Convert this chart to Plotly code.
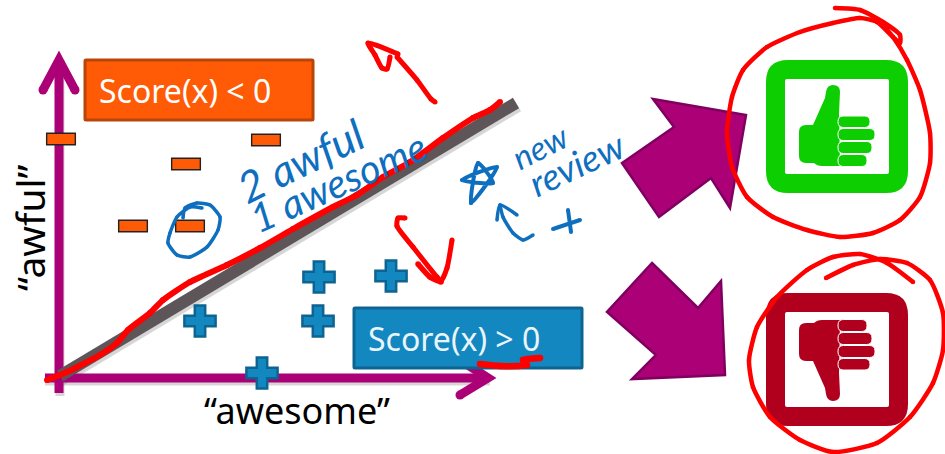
import plotly.graph_objects as go

# everything in pixels
minus_x = [61, 266, 186, 133, 190]
minus_y = [139, 140, 164, 226, 226]
plus_x = [200, 262, 319, 318, 391]
plus_y = [321, 373, 277, 321, 276]

arrow_up = [(653, 99), (746, 115), (730, 208), (711, 178), (659, 217), (622, 163), (674, 127)]
arrow_down = [(652, 263), (698, 308), (721, 281), (725, 375), (632, 379), (656, 355), (607, 312)]

fingers = [(838, 870, 116, 127.5), (838, 875, 128.5, 140.5), (838, 872, 141.5, 153.5), (838, 867, 154.5, 166.5)]

boundary_x = [60, 516]
boundary_y = [376, 103]

red_line_x = [47, 67, 100, 117, 128, 150, 163, 190, 227, 260, 293, 333, 357, 383, 410, 443, 473, 490, 500]
red_line_y = [380, 372, 355, 343, 330, 313, 300, 282, 265, 248, 229, 207, 195, 177, 162, 138, 118, 110, 102]
red_up_x = [435, 431, 417, 397]
red_up_y = [102, 99, 80, 57]
red_up_head_x = [398, 368, 375, 382, 387, 390]
red_up_head_y = [54, 43, 55, 68, 69, 57]
red_down_x = [405, 398, 397, 413, 437, 441, 447, 452]
red_down_y = [218, 218, 226, 247, 277, 281, 268, 240]
red_down_head_x = [418, 430, 441]
red_down_head_y = [264, 277, 282]
red_under_x = [480, 500, 527, 523, 540]
red_under_y = [364, 366, 365, 360, 358]
red_top_x = [835, 860, 883, 900, 900, 893, 877, 860, 833, 800, 767, 743, 732, 727, 732, 747, 773, 807, 840, 873, 900,
             920, 930, 930, 920, 907, 893, 880]
red_top_y = [8, 10, 22, 35, 43, 37, 22, 18, 23, 32, 47, 70, 97, 133, 167, 197, 217, 230, 237, 233, 220,
             197, 163, 133, 90, 60, 37, 22]
red_bot_x = [826, 853, 880, 907, 930, 943, 943, 933, 910, 877, 833, 800, 770, 753, 749, 757, 777, 807, 833, 860, 887, 913]
red_bot_y = [278, 265, 259, 263, 280, 313, 350, 383, 417, 443, 452, 440, 417, 387, 360, 327, 297, 270, 257, 254, 263, 282]

blue_ring_x = [202, 190, 177, 170, 168, 177, 190, 207, 218, 220, 210, 197, 185, 183]
blue_ring_y = [208, 207, 217, 233, 243, 255, 257, 247, 230, 217, 205, 203, 208, 218]
blue_star_x = [471, 478, 493, 462, 497, 471]
blue_star_y = [203, 163, 183, 180, 167, 203]
blue_arrow_x = [533, 523, 513, 503, 500]
blue_arrow_y = [235, 240, 233, 217, 205]
blue_head_x = [497, 500, 517]
blue_head_y = [220, 205, 215]
blue_plus_a_x = [553, 580]
blue_plus_a_y = [229, 220]
blue_plus_b_x = [568, 571]
blue_plus_b_y = [210, 232]

PURPLE = "#AC0077"
PURPLE_DARK = "#7F0060"
ORANGE = "#FF5A05"
BLUE = "#1287C0"
BLUE_DARK = "#0E6490"
GREEN = "#0DCE00"
CRIMSON = "#B1001E"
RED = "#FF0000"
INK = "#0F6FBF"
SHADOW = "rgba(0,0,0,0.16)"


def polygon(points):
    return "M" + " L".join(f"{x},{y}" for x, y in points) + " Z"


def round_rect(x0, x1, y0, y1, r):
    return (f"M{x0 + r},{y0} L{x1 - r},{y0} Q{x1},{y0} {x1},{y0 + r} L{x1},{y1 - r} Q{x1},{y1} {x1 - r},{y1} "
            f"L{x0 + r},{y1} Q{x0},{y1} {x0},{y1 - r} L{x0},{y0 + r} Q{x0},{y0} {x0 + r},{y0} Z")


shapes = []


def add_path(path, fill=None, line=None, width=0):
    shapes.append(dict(type="path", path=path, xref="x", yref="y", layer="below",
                       fillcolor=fill or "rgba(0,0,0,0)",
                       line=dict(color=line or "rgba(0,0,0,0)", width=width)))


def add_dot(x, y, r, color):
    shapes.append(dict(type="circle", x0=x - r, x1=x + r, y0=y - r, y1=y + r, xref="x", yref="y",
                       layer="below", fillcolor=color, line=dict(width=0)))


def add_stroke(points, color, width):
    path = "M" + " L".join(f"{x},{y}" for x, y in points)
    add_path(path, line=color, width=width)


def add_icon(color, flip):
    # the thumbs down icon is the thumbs up one mirrored, 233 px lower
    def fy(y):
        return 486 - y if flip else y
    top = 293 if flip else 60
    add_path(round_rect(766, 908, top, top + 133, 22), fill=color)
    add_path(round_rect(785, 889, top + 19, top + 114, 2), fill="white")
    thumb = (f"M799,{fy(132)} Q799,{fy(125)} 806,{fy(125)} L813,{fy(125)} L825,{fy(98)} L826,{fy(92)} "
             f"Q827,{fy(85)} 833,{fy(85)} Q840,{fy(85)} 840,{fy(92)} L839,{fy(113)} L840,{fy(166)} L822,{fy(166)} "
             f"Q817,{fy(166)} 814,{fy(163)} L806,{fy(163)} Q799,{fy(163)} 799,{fy(156)} Z")
    add_path(thumb, fill=color)
    for x0, x1, y0, y1 in fingers:
        add_path(round_rect(x0, x1, min(fy(y0), fy(y1)), max(fy(y0), fy(y1)), 5.5),
                 fill=color, line="white", width=1)


# shadows first, then the axes, the boundary and the boxes
add_stroke([(59 + 1, 393 + 3), (59 + 1, 60)], SHADOW, 9)
add_stroke([(45, 378 + 3), (490, 378 + 3)], SHADOW, 9)
add_stroke([(boundary_x[0] + 2, boundary_y[0] + 3), (boundary_x[1] + 2, boundary_y[1] + 3)], SHADOW, 12)

add_stroke([(59, 393), (59, 60)], PURPLE, 9)
add_stroke([(43, 90), (59, 60), (75, 90)], PURPLE, 9)
add_dot(43, 90, 4.5, PURPLE)
add_dot(75, 90, 4.5, PURPLE)
add_stroke([(45, 378), (488, 378)], PURPLE, 9)
add_stroke([(460, 360), (488, 378), (460, 395)], PURPLE, 9)
add_dot(460, 395, 4.5, PURPLE)
add_stroke(list(zip(boundary_x, boundary_y)), "#5D5557", 12)

add_path(round_rect(85, 313, 60, 120, 1), fill=ORANGE, line="#B8450A", width=3)
add_path(round_rect(354, 582, 308, 368, 1), fill=BLUE, line=BLUE_DARK, width=3)
add_path(polygon(arrow_up), fill=PURPLE, line=PURPLE_DARK, width=2.5)
add_path(polygon(arrow_down), fill=PURPLE, line=PURPLE_DARK, width=2.5)
add_icon(GREEN, False)
add_icon(CRIMSON, True)

fig = go.Figure()


def ink(xs, ys, color, width):
    fig.add_trace(go.Scatter(x=xs, y=ys, mode="lines+markers", hoverinfo="skip",
                             line=dict(color=color, width=width, shape="spline", smoothing=0.6),
                             marker=dict(color=color, size=width, line=dict(width=0))))


# minus signs: dark bar with a slightly shorter orange one on top
fig.add_trace(go.Scatter(x=minus_x, y=minus_y, mode="markers", hoverinfo="skip",
                         marker=dict(symbol="line-ew", size=21.5, line=dict(color="#222222", width=13))))
fig.add_trace(go.Scatter(x=minus_x, y=minus_y, mode="markers", hoverinfo="skip",
                         marker=dict(symbol="line-ew", size=19.5, line=dict(color=ORANGE, width=10))))
fig.add_trace(go.Scatter(x=plus_x, y=plus_y, mode="markers", hoverinfo="skip",
                         marker=dict(symbol="cross", size=26, color=BLUE, line=dict(color=BLUE_DARK, width=2.5))))

ink(red_line_x, red_line_y, RED, 6)
ink(red_up_x, red_up_y, RED, 5)
ink(red_up_head_x, red_up_head_y, RED, 5)
ink(red_down_x, red_down_y, RED, 5)
ink(red_down_head_x, red_down_head_y, RED, 5.5)
ink(red_under_x, red_under_y, RED, 6.5)
ink(red_top_x, red_top_y, RED, 4.5)
ink(red_bot_x, red_bot_y, RED, 4.5)
ink(blue_ring_x, blue_ring_y, INK, 3.5)
ink(blue_star_x, blue_star_y, INK, 4)
ink(blue_arrow_x, blue_arrow_y, INK, 3.5)
ink(blue_head_x, blue_head_y, INK, 3.5)
ink(blue_plus_a_x, blue_plus_a_y, INK, 4)
ink(blue_plus_b_x, blue_plus_b_y, INK, 4)


def label(text, x, y, size, color="black", angle=0, family="Noto Sans"):
    fig.add_annotation(text=text, x=x, y=y, xref="x", yref="y", showarrow=False, textangle=angle,
                       font=dict(size=size, color=color, family=family))


label("Score(x) < 0", 185, 90, 32, "white")
label("Score(x) > 0", 454, 338, 32, "#EAF5FB")
label("“awesome”", 297, 410, 36)
label("“awful”", 29, 228, 39, angle=-90)
label("<i>2 awful</i>", 300, 160, 43, INK, angle=-26, family="Lato")
label("<i>1 awesome</i>", 338, 182, 40, INK, angle=-24, family="Lato")
label("<i>new</i>", 540, 146, 33, INK, angle=-27, family="Lato")
label("<i>review</i>", 576, 163, 37, INK, angle=-25, family="Lato")

fig.update_layout(
    width=945, height=454,
    margin=dict(l=0, r=0, t=0, b=0),
    paper_bgcolor="white", plot_bgcolor="white",
    showlegend=False,
    shapes=shapes,
    xaxis=dict(range=[0, 945], visible=False, fixedrange=True),
    yaxis=dict(range=[454, 0], visible=False, fixedrange=True),
)

fig.write_html("out.html", config=dict(displayModeBar=False),
               post_script="document.body.style.margin = '0';")
